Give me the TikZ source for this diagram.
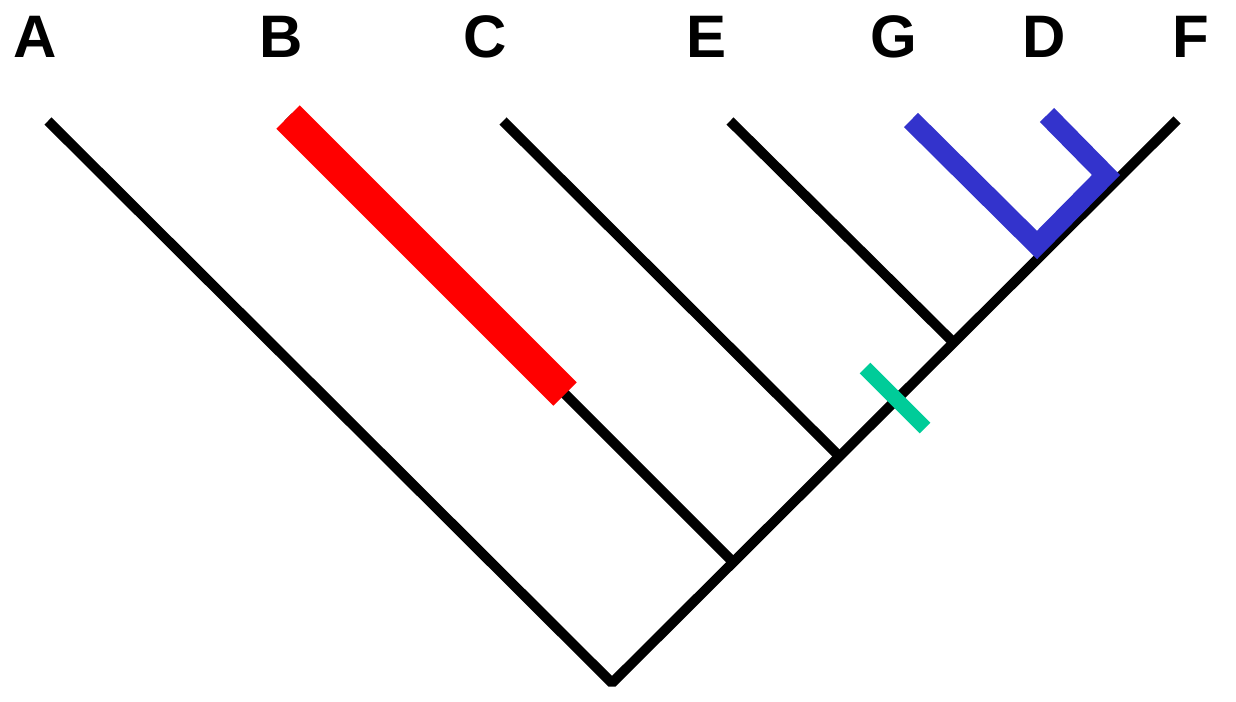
\documentclass[tikz,border=0pt]{standalone}
\usepackage{fontspec}
\setmainfont{Liberation Sans}
\begin{document}
\begin{tikzpicture}[x=1pt,y=-1pt,
  taxon/.style={anchor=base,inner sep=0pt,font=\fontsize{60}{60}\bfseries\selectfont},
  branch/.style={line width=10pt,line cap=butt,black},
  redbar/.style={line width=33pt,line cap=butt,draw={rgb,255:red,255;green,0;blue,0}},
  bluebar/.style={line width=20pt,line cap=butt,line join=miter,draw={rgb,255:red,51;green,51;blue,204}},
  greenmark/.style={line width=15pt,line cap=butt,draw={rgb,255:red,0;green,204;blue,153}}]
\useasboundingbox (0,0) rectangle (1236,701);

% taxon labels
\node[taxon] (lA) at (35.5,58) {A};
\node[taxon] (lB) at (281,58) {B};
\node[taxon] (lC) at (485.5,58) {C};
\node[taxon] (lE) at (707,58) {E};
\node[taxon] (lG) at (893.5,58) {G};
\node[taxon] (lD) at (1044,58) {D};
\node[taxon] (lF) at (1191,58) {F};

% tips, root and branching points
\coordinate (root) at (612,683);
\coordinate (tA) at (48,121);
\coordinate (tF) at (1177,120);
\coordinate (tB) at (288,117);
\coordinate (tC) at (503,121);
\coordinate (tE) at (730,121);
\coordinate (jB) at (733,562);
\coordinate (jC) at (839,456);
\coordinate (jE) at (953,342);
\coordinate (rB) at (565,394);
\coordinate (tG) at (911,120);
\coordinate (bG) at (1037,245);
\coordinate (bD) at (1106,175);
\coordinate (tD) at (1047,115);
\coordinate (g1) at (865,368);
\coordinate (g2) at (925,428);

% tree
\draw[branch,line join=bevel] (tA) -- (root) -- (tF);
\draw[branch] (tB) -- (jB);
\draw[branch] (tC) -- (jC);
\draw[branch] (tE) -- (jE);

% highlighted branches
\draw[redbar] (tB) -- (rB);
\draw[bluebar] (tG) -- (bG) -- (bD) -- (tD);
\draw[greenmark] (g1) -- (g2);
\end{tikzpicture}
\end{document}
